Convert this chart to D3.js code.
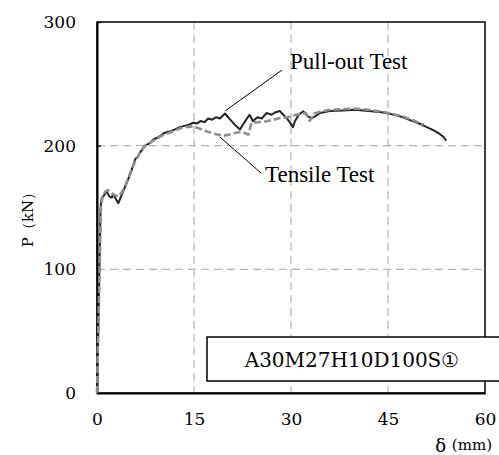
<!DOCTYPE html>
<html>
<head>
<meta charset="utf-8">
<script src="https://cdn.jsdelivr.net/npm/d3@7/dist/d3.min.js"></script>
<style>
  html, body { margin: 0; padding: 0; background: #fff; }
  svg { display: block; }
</style>
</head>
<body>
<script>
// ---- data ----
const xTicks = [0, 15, 30, 45, 60];
const yTicks = [0, 100, 200, 300];
const xLabelSym = "δ";
const xLabelUnit = "(mm)";
const yLabel = "P（kN）";
const specimenLabel = "A30M27H10D100S①";
const seriesNames = ["Pull-out Test", "Tensile Test"];

// Pull-out test: displacement (mm), load (kN)
const pulloutX = [0, 0.3, 0.55, 0.7, 1.1, 1.5, 1.9, 2.3, 2.5, 2.9, 3.3, 3.8, 4.2, 4.6, 5.2, 5.9, 6.3, 6.6, 7.0, 7.4, 7.8, 8.2, 8.7, 9.2, 9.8, 10.3, 10.8, 11.3, 12.0, 12.8, 13.5, 14.2, 14.9, 15.5, 16.0, 16.6, 17.2, 17.8, 18.4, 19.0, 19.8, 20.6, 21.3, 22.1, 22.8, 23.6, 24.1, 24.8, 25.5, 26.2, 27.0, 27.6, 28.3, 28.8, 29.3, 29.8, 30.3, 30.6, 31.2, 31.9, 32.5, 33.2, 33.8, 34.5, 36, 38, 40, 42, 44, 45.5, 47, 48.5, 50, 51, 52, 53, 53.6, 54];
const pulloutY = [0, 80, 150, 157, 160, 163, 159, 158, 161, 157, 153.5, 160, 165, 170, 178, 189, 191, 194, 197, 200, 201, 202, 205, 206, 208, 210, 211, 211.5, 213, 215, 216, 217, 218.5, 218, 220, 219, 222, 221, 223, 222, 226, 221, 217, 213, 219, 225, 219.7, 223, 222, 226.4, 225, 227, 228, 225, 222.4, 219, 215, 219.7, 225, 227.8, 224, 222, 224, 226.4, 228, 228.5, 229, 228, 227, 225.5, 223.5, 220.5, 217.5, 215, 212.5, 209.5, 207, 204];

// Tensile test: displacement (mm), load (kN)
const tensileX = [0, 0.3, 0.6, 0.9, 1.3, 1.7, 2.2, 2.7, 3.3, 3.8, 4.4, 5.0, 5.8, 6.5, 7.3, 8.0, 9.0, 10.0, 11.0, 12.0, 12.8, 13.8, 14.9, 16.0, 17.0, 18.3, 19.5, 20.5, 21.5, 22.5, 23.4, 23.9, 25.0, 26.2, 27.3, 28.3, 29.5, 30.5, 31.5, 32.3, 32.9, 33.6, 34.5, 36, 38, 40, 42, 44, 45.5, 47, 48.5, 50, 50.5];
const tensileY = [0, 75, 150, 160, 163, 164, 162, 160, 159, 162, 168, 176, 186, 193, 199, 202, 205, 208, 210, 212, 214, 215, 215.7, 213.5, 211.5, 209.5, 208, 209, 210.5, 211, 209, 218.5, 219, 219.7, 221, 222.4, 223, 224.5, 226, 226.4, 220, 226, 227.5, 229, 229.5, 230, 229, 227.5, 226, 224, 221.5, 218, 217];

// ---- layout ----
const W = 499, H = 455;
const svg = d3.select("body").append("svg").attr("width", W).attr("height", H);

const x = d3.scaleLinear().domain([0, 60]).range([97, 485]);
const y = d3.scaleLinear().domain([0, 300]).range([393, 22]);

const serif = "'Liberation Serif', 'Times New Roman', serif";
const century = "'DejaVu Serif', serif";

// grid
const grid = svg.append("g");
grid.selectAll(".gx").data(xTicks.filter(d => d > 0 && d < 60)).enter().append("line")
  .attr("x1", d => x(d)).attr("x2", d => x(d)).attr("y1", y(300)).attr("y2", y(0))
  .attr("stroke", "#b3b3b3").attr("stroke-width", 1.2).attr("stroke-dasharray", "8,5");
grid.selectAll(".gy").data(yTicks.filter(d => d > 0 && d < 300)).enter().append("line")
  .attr("x1", x(0)).attr("x2", x(60)).attr("y1", d => y(d)).attr("y2", d => y(d))
  .attr("stroke", "#b3b3b3").attr("stroke-width", 1.2).attr("stroke-dasharray", "8,5");

// frame
svg.append("rect").attr("x", x(0)).attr("y", y(300))
  .attr("width", x(60) - x(0)).attr("height", y(0) - y(300))
  .attr("fill", "none").attr("stroke", "#000").attr("stroke-width", 1.5);

// axes (ticks via d3 axes)
const xAxis = svg.append("g").attr("transform", `translate(0,${y(0)})`)
  .call(d3.axisBottom(x).tickValues(xTicks).tickSize(0).tickPadding(20));
xAxis.select(".domain").attr("stroke", "#000").attr("stroke-width", 2);
xAxis.selectAll("text").attr("font-family", century).attr("font-size", 17).attr("fill", "#000");

const yAxis = svg.append("g").attr("transform", `translate(${x(0)},0)`)
  .call(d3.axisLeft(y).tickValues(yTicks).tickSize(0).tickPadding(21));
yAxis.select(".domain").attr("stroke", "#000").attr("stroke-width", 2);
yAxis.selectAll("text").attr("font-family", century).attr("font-size", 17).attr("fill", "#000");
yAxis.selectAll(".tick").append("line").attr("x1", 0).attr("x2", 4).attr("stroke", "#000").attr("stroke-width", 1.2);

// lines
const line = d3.line().x(d => x(d[0])).y(d => y(d[1]));
const tensile = tensileX.map((v, i) => [v, tensileY[i]]);
const pullout = pulloutX.map((v, i) => [v, pulloutY[i]]);

svg.append("path").datum(pullout).attr("d", line)
  .attr("fill", "none").attr("stroke", "#222").attr("stroke-width", 2).attr("stroke-linejoin", "round");
svg.append("path").datum(tensile).attr("d", line)
  .attr("fill", "none").attr("stroke", "#8f8f8f").attr("stroke-width", 2.6)
  .attr("stroke-dasharray", "7,3").attr("stroke-linejoin", "round");

// annotations
svg.append("line").attr("x1", x(19.8)).attr("y1", y(228)).attr("x2", 282).attr("y2", 70)
  .attr("stroke", "#000").attr("stroke-width", 1);
svg.append("text").attr("x", 290).attr("y", 69).text(seriesNames[0])
  .attr("font-family", serif).attr("font-size", 23).attr("fill", "#000");
svg.append("line").attr("x1", x(19)).attr("y1", y(207)).attr("x2", 261).attr("y2", 173)
  .attr("stroke", "#000").attr("stroke-width", 1);
svg.append("text").attr("x", 265).attr("y", 182).text(seriesNames[1])
  .attr("font-family", serif).attr("font-size", 23).attr("fill", "#000");

// specimen box
svg.append("rect").attr("x", 207).attr("y", 337).attr("width", 320).attr("height", 44)
  .attr("fill", "#fff").attr("stroke", "#000").attr("stroke-width", 1.5);
svg.append("text").attr("x", 352).attr("y", 360).attr("text-anchor", "middle")
  .attr("dominant-baseline", "central").text(specimenLabel)
  .attr("font-family", century).attr("font-size", 20).attr("fill", "#000");

// axis titles
svg.append("text").attr("transform", "translate(28,216) rotate(-90)")
  .attr("text-anchor", "middle").attr("dominant-baseline", "central")
  .text(yLabel).attr("font-family", century).attr("font-size", 15).attr("fill", "#000");
const xt = svg.append("text").attr("x", 492).attr("y", 445).attr("text-anchor", "end")
  .attr("dominant-baseline", "central").attr("font-family", century).attr("fill", "#000");
xt.append("tspan").attr("font-size", 18).text(xLabelSym + " ");
xt.append("tspan").attr("font-size", 15).text(xLabelUnit);
</script>
</body>
</html>
